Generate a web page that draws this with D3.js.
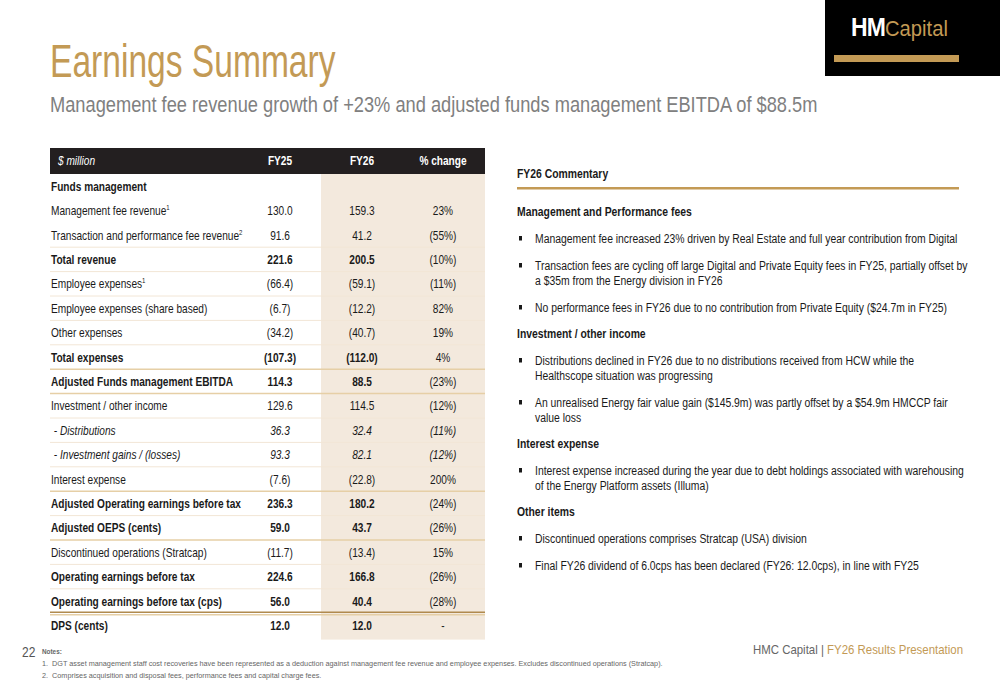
<!DOCTYPE html>
<html>
<head>
  <meta charset="utf-8">
  <title>Earnings Summary</title>
  <script src="https://d3js.org/d3.v7.min.js"></script>
  <style>
    body { margin: 0; background: #fff; }
    svg { display: block; font-family: "Liberation Sans", Arial, sans-serif; }
  </style>
</head>
<body>
  <svg id="slide" width="1000" height="685"></svg>
  <script>
    // table data
    const columns = ["FY25", "FY26", "% change"];
    const rowLabels = ["Funds management", "Management fee revenue", "Transaction and performance fee revenue",
      "Total revenue", "Employee expenses", "Employee expenses (share based)", "Other expenses", "Total expenses",
      "Adjusted Funds management EBITDA", "Investment / other income", " - Distributions",
      " - Investment gains / (losses)", "Interest expense", "Adjusted Operating earnings before tax",
      "Adjusted OEPS (cents)", "Discontinued operations (Stratcap)", "Operating earnings before tax",
      "Operating earnings before tax (cps)", "DPS (cents)"];
    const labelSup = [null, "1", "2", null, "1", null, null, null, null, null, null, null, null, null, null, null, null, null, null];
    const fy25 = ["", "130.0", "91.6", "221.6", "(66.4)", "(6.7)", "(34.2)", "(107.3)", "114.3", "129.6", "36.3", "93.3", "(7.6)", "236.3", "59.0", "(11.7)", "224.6", "56.0", "12.0"];
    const fy26 = ["", "159.3", "41.2", "200.5", "(59.1)", "(12.2)", "(40.7)", "(112.0)", "88.5", "114.5", "32.4", "82.1", "(22.8)", "180.2", "43.7", "(13.4)", "166.8", "40.4", "12.0"];
    const pctChange = ["", "23%", "(55%)", "(10%)", "(11%)", "82%", "19%", "4%", "(23%)", "(12%)", "(11%)", "(12%)", "200%", "(24%)", "(26%)", "15%", "(26%)", "(28%)", "-"];
    const boldRows = [0, 3, 7, 8, 13, 14, 16, 17, 18];
    const boldNumRows = [3, 7, 8, 13, 14, 16, 17, 18];
    const italicRows = [10, 11];
    const goldLineAfter = [7, 8, 12, 14];
    const lightLineAfter = [2, 3, 4, 5, 6, 9, 10, 11, 13, 15, 16];
    const doubleLineAfter = [17];

    // commentary
    const commentary = [
      { head: "Management and Performance fees", bullets: [
        ["Management fee increased 23% driven by Real Estate and full year contribution from Digital"],
        ["Transaction fees are cycling off large Digital and Private Equity fees in FY25, partially offset by", "a $35m from the Energy division in FY26"],
        ["No performance fees in FY26 due to no contribution from Private Equity ($24.7m in FY25)"]] },
      { head: "Investment / other income", bullets: [
        ["Distributions declined in FY26 due to no distributions received from HCW while the", "Healthscope situation was progressing"],
        ["An unrealised Energy fair value gain ($145.9m) was partly offset by a $54.9m HMCCP fair", "value loss"]] },
      { head: "Interest expense", bullets: [
        ["Interest expense increased during the year due to debt holdings associated with warehousing", "of the Energy Platform assets (Illuma)"]] },
      { head: "Other items", bullets: [
        ["Discontinued operations comprises Stratcap (USA) division"],
        ["Final FY26 dividend of 6.0cps has been declared (FY26: 12.0cps), in line with FY25"]] }
    ];
    const notes = [
      "1.  DGT asset management staff cost recoveries have been represented as a deduction against management fee revenue and employee expenses. Excludes discontinued operations (Stratcap).",
      "2.  Comprises acquisition and disposal fees, performance fees and capital charge fees."
    ];

    const gold = "#c39a55", dark = "#231f20", ink = "#1a1a1a";
    const SX = 0.77; // condensed look
    const TSX = 0.75; // table
    const svg = d3.select("#slide");

    // text helper: condensed via horizontal scale
    function T(parent, x, y, str, size, sx) {
      return parent.append("text")
        .attr("transform", `translate(${x},${y}) scale(${sx || SX},1)`)
        .attr("font-size", size).attr("fill", ink).text(str);
    }

    // title
    T(svg, 50, 77, "Earnings Summary", 46, 0.73).attr("fill", gold);
    T(svg, 50, 112, "Management fee revenue growth of +23% and adjusted funds management EBITDA of $88.5m", 22, 0.83)
      .attr("fill", "#808080");

    // logo
    const logo = svg.append("g");
    logo.append("rect").attr("x", 825).attr("y", 0).attr("width", 175).attr("height", 76).attr("fill", "#000");
    logo.append("rect").attr("x", 834).attr("y", 55).attr("width", 125).attr("height", 7).attr("fill", gold);
    const lt = T(logo, 851, 36, "", 25, 0.92);
    lt.append("tspan").attr("fill", "#fff").attr("font-weight", "bold").attr("letter-spacing", -1).text("HM");
    lt.append("tspan").attr("fill", gold).attr("font-size", 22).text("Capital");

    // table
    const tLeft = 50, tRight = 485, headTop = 148, headH = 26;
    const y = d3.scaleBand().domain(d3.range(rowLabels.length))
      .range([headTop + headH, headTop + headH + 24.4 * rowLabels.length]);
    const x = d3.scaleOrdinal().domain(columns).range([280, 362, 443]);

    svg.append("rect").attr("x", 321).attr("y", y(0)).attr("width", tRight - 321)
      .attr("height", y.range()[1] - y(0) + 2).attr("fill", "#f3e9dd");
    svg.append("rect").attr("x", tLeft).attr("y", headTop).attr("width", tRight - tLeft).attr("height", headH).attr("fill", dark);
    T(svg, 58, headTop + 17, "$ million", 13.5, TSX).attr("fill", "#fff").attr("font-style", "italic");
    columns.forEach(c => T(svg, x(c), headTop + 17, c, 13.5, TSX).attr("fill", "#fff")
      .attr("font-weight", "bold").attr("text-anchor", "middle"));

    const lineAt = i => y(i) + y.bandwidth();
    svg.selectAll("line.light").data(lightLineAfter).join("line")
      .attr("x1", tLeft).attr("x2", tRight).attr("y1", lineAt).attr("y2", lineAt)
      .attr("stroke", "#f2e6d6").attr("stroke-width", 1);
    svg.selectAll("line.gold").data(goldLineAfter).join("line")
      .attr("x1", tLeft).attr("x2", tRight).attr("y1", lineAt).attr("y2", lineAt)
      .attr("stroke", "#e6cfa6").attr("stroke-width", 1.5);
    doubleLineAfter.forEach(i => {
      [-1, 1.5].forEach(o => svg.append("line").attr("x1", tLeft).attr("x2", tRight)
        .attr("y1", lineAt(i) + o).attr("y2", lineAt(i) + o)
        .attr("stroke", o < 0 ? "#b08a4e" : "#e6cfa6").attr("stroke-width", 1.5));
    });

    rowLabels.forEach((lab, i) => {
      const by = y(i) + y.bandwidth() / 2 + 4.5;
      const style = t => t.attr("font-style", italicRows.includes(i) ? "italic" : "normal");
      const l = style(T(svg, 51, by, null, 13.5, TSX)).attr("xml:space", "preserve")
        .attr("font-weight", boldRows.includes(i) ? "bold" : "normal");
      l.append("tspan").text(lab);
      if (labelSup[i]) l.append("tspan").attr("font-size", 8).attr("dy", -5).text(labelSup[i]);
      [fy25, fy26, pctChange].forEach((vals, c) => {
        style(T(svg, x(columns[c]), by, vals[i], 13.5, TSX)).attr("text-anchor", "middle")
          .attr("font-weight", boldNumRows.includes(i) && c < 2 ? "bold" : "normal");
      });
    });

    // commentary
    T(svg, 517, 178, "FY26 Commentary", 13.5).attr("font-weight", "bold");
    svg.append("rect").attr("x", 517).attr("y", 187).attr("width", 442).attr("height", 2.5).attr("fill", gold);
    let cy = 216;
    commentary.forEach(sec => {
      T(svg, 517, cy, sec.head, 13.5).attr("font-weight", "bold");
      cy += 27;
      sec.bullets.forEach(b => {
        svg.append("rect").attr("x", 519).attr("y", cy - 7).attr("width", 3).attr("height", 4.5).attr("fill", ink);
        b.forEach((ln, k) => T(svg, 535, cy + k * 15, ln, 13.5));
        cy += 15 * (b.length - 1) + 27;
      });
      cy -= 1;
    });

    // footer
    T(svg, 22, 657, "22", 15, 0.8).attr("fill", "#555");
    T(svg, 42, 654, "Notes:", 7.5, 0.85).attr("font-weight", "bold").attr("fill", "#666");
    notes.forEach((n, i) => T(svg, 42, 666 + i * 12, n, 7.5, 0.97).attr("fill", "#666").attr("xml:space", "preserve"));
    const ft = T(svg, 963, 654, null, 13, 0.88).attr("text-anchor", "end");
    ft.append("tspan").attr("fill", "#666").text("HMC Capital | ");
    ft.append("tspan").attr("fill", gold).text("FY26 Results Presentation");
  </script>
</body>
</html>
